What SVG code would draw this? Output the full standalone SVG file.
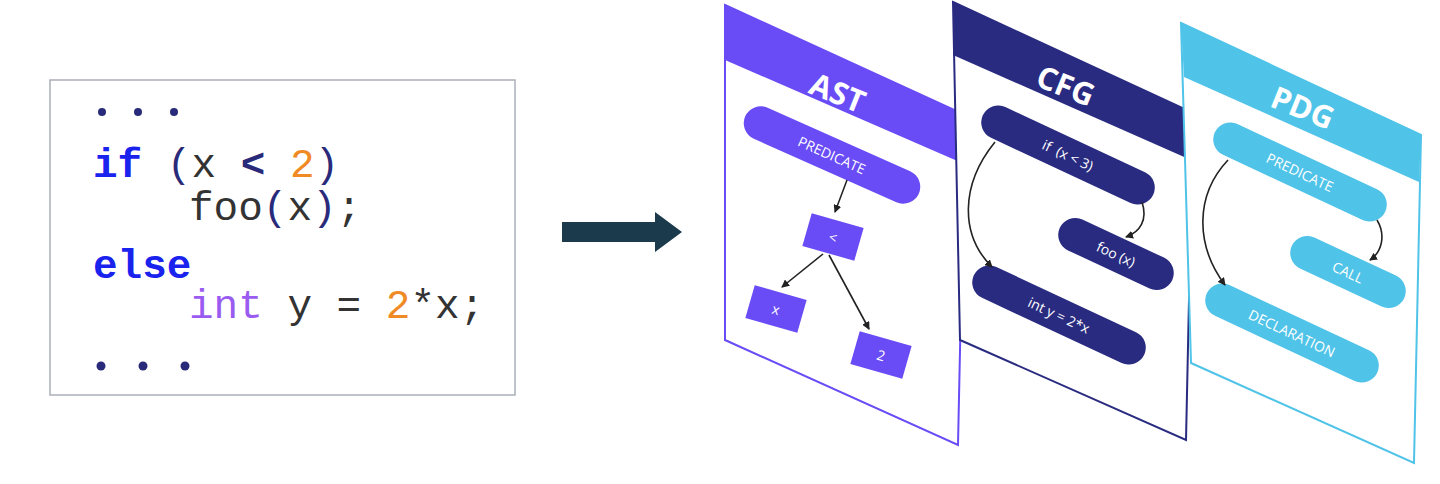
<svg xmlns="http://www.w3.org/2000/svg" width="1440" height="484" viewBox="0 0 1440 484">
<style>
.code{font-family:"Liberation Mono",monospace;font-size:41px;fill:#333}
.kw{font-weight:bold;fill:#1a22ee}
.nv{fill:#2a2a7a}
.or{fill:#f08a24}
.pu{fill:#9a5cf0}
.hd{font-family:"Open Sans",sans-serif;font-size:31px;font-weight:bold;fill:#fff;text-anchor:middle;dominant-baseline:central}
.nt{font-family:"Open Sans",sans-serif;font-size:14px;fill:#fff;text-anchor:middle;dominant-baseline:central}
.e{fill:none;stroke:#222;stroke-width:1.6;marker-end:url(#ah)}
</style>
<defs>
<marker id="ah" markerWidth="8" markerHeight="8" refX="7" refY="4" orient="auto" markerUnits="userSpaceOnUse"><path d="M0,0 L8,4 L0,8 Z" fill="#222"/></marker>
</defs>
<rect width="1440" height="484" fill="#fff"/>
<g id="code">
<rect x="50" y="80" width="465" height="315" fill="#fff" stroke="#aab0b8" stroke-width="1.5"/>
<g class="nv"><circle cx="102" cy="112" r="4"/><circle cx="138" cy="112" r="4"/><circle cx="174" cy="112" r="4"/><circle cx="101" cy="366" r="4.5"/><circle cx="143" cy="366" r="4.5"/><circle cx="185" cy="366" r="4.5"/></g>
<text class="code" x="93" y="177" xml:space="preserve"><tspan class="kw">if</tspan> <tspan class="nv">(</tspan>x <tspan class="nv" font-weight="bold">&lt;</tspan> <tspan class="or">2</tspan><tspan class="nv">)</tspan></text>
<text class="code" x="189" y="220" xml:space="preserve">foo<tspan class="nv">(</tspan>x<tspan class="nv">)</tspan>;</text>
<text class="code" x="93" y="278"><tspan class="kw">else</tspan></text>
<text class="code" x="189" y="318" xml:space="preserve"><tspan class="pu">int</tspan> y = <tspan class="or">2</tspan>*x;</text>
</g>
<g id="bigarrow"><path d="M562,222 H655 V212 L682,232 L655,252 V242 H562 Z" fill="#1b3a4b"/></g>
<g id="ast">
<polygon points="725,5 965,115 958,445 725,340" fill="#fff" stroke="#6a4cf6" stroke-width="2"/>
<polygon points="725,5 965,115 962,163 725,60" fill="#6a4cf6"/>
<text class="hd" transform="translate(838,92) rotate(22)">AST</text>
<g transform="translate(832,155) rotate(24)"><rect x="-95" y="-17" width="190" height="34" rx="17" fill="#6a4cf6"/><text class="nt" x="0" y="0">PREDICATE</text></g>
<g transform="translate(833,237) rotate(16)"><rect x="-27" y="-17" width="54" height="34" fill="#6a4cf6"/><text class="nt" font-size="17" x="0" y="0">&lt;</text></g>
<g transform="translate(776,309) rotate(16)"><rect x="-27" y="-17" width="54" height="34" fill="#6a4cf6"/><text class="nt" font-size="17" x="0" y="0">x</text></g>
<g transform="translate(881,355) rotate(16)"><rect x="-27" y="-17" width="54" height="34" fill="#6a4cf6"/><text class="nt" font-size="15" x="0" y="0">2</text></g>
</g>
<g id="cfg">
<polygon points="953,2 1193,113 1186,440 960,340" fill="#fff" stroke="#292b80" stroke-width="2"/>
<polygon points="953,2 1193,113 1191,160 953,55" fill="#292b80"/>
<text class="hd" transform="translate(1066,85) rotate(22)">CFG</text>
<g transform="translate(1068,155) rotate(25)"><rect x="-94" y="-17" width="188" height="34" rx="17" fill="#292b80"/><text class="nt" x="0" y="0" xml:space="preserve">if  (x &lt; 3)</text></g>
<g transform="translate(1116,254) rotate(25)"><rect x="-62" y="-17" width="124" height="34" rx="17" fill="#292b80"/><text class="nt" x="0" y="0">foo (x)</text></g>
<g transform="translate(1059,315) rotate(25)"><rect x="-94" y="-17" width="188" height="34" rx="17" fill="#292b80"/><text class="nt" x="0" y="0">int y = 2*x</text></g>
</g>
<g id="pdg">
<polygon points="1181,23 1421,135 1414,463 1191,363" fill="#fff" stroke="#4fc3e8" stroke-width="2"/>
<polygon points="1181,23 1421,135 1419,182 1184,77" fill="#4fc3e8"/>
<text class="hd" transform="translate(1303,107) rotate(22)">PDG</text>
<g transform="translate(1300,172) rotate(25)"><rect x="-94" y="-17" width="188" height="34" rx="17" fill="#4fc3e8"/><text class="nt" x="0" y="0">PREDICATE</text></g>
<g transform="translate(1348,272) rotate(25)"><rect x="-62" y="-17" width="124" height="34" rx="17" fill="#4fc3e8"/><text class="nt" x="0" y="0">CALL</text></g>
<g transform="translate(1292,333) rotate(25)"><rect x="-94" y="-17" width="188" height="34" rx="17" fill="#4fc3e8"/><text class="nt" x="0" y="0">DECLARATION</text></g>
</g>
<g id="connectors">
<path class="e" d="M847,180 L835,212"/>
<path class="e" d="M823,254 L782,287"/>
<path class="e" d="M829,255 L869,329"/>
<path class="e" d="M995,142 C960,185 960,235 992,267"/>
<path class="e" d="M1142,202 C1148,220 1140,232 1126,237"/>
<path class="e" d="M1228,160 C1195,195 1195,245 1225,285"/>
<path class="e" d="M1377,220 C1386,235 1382,252 1370,260"/>
</g>
</svg>
